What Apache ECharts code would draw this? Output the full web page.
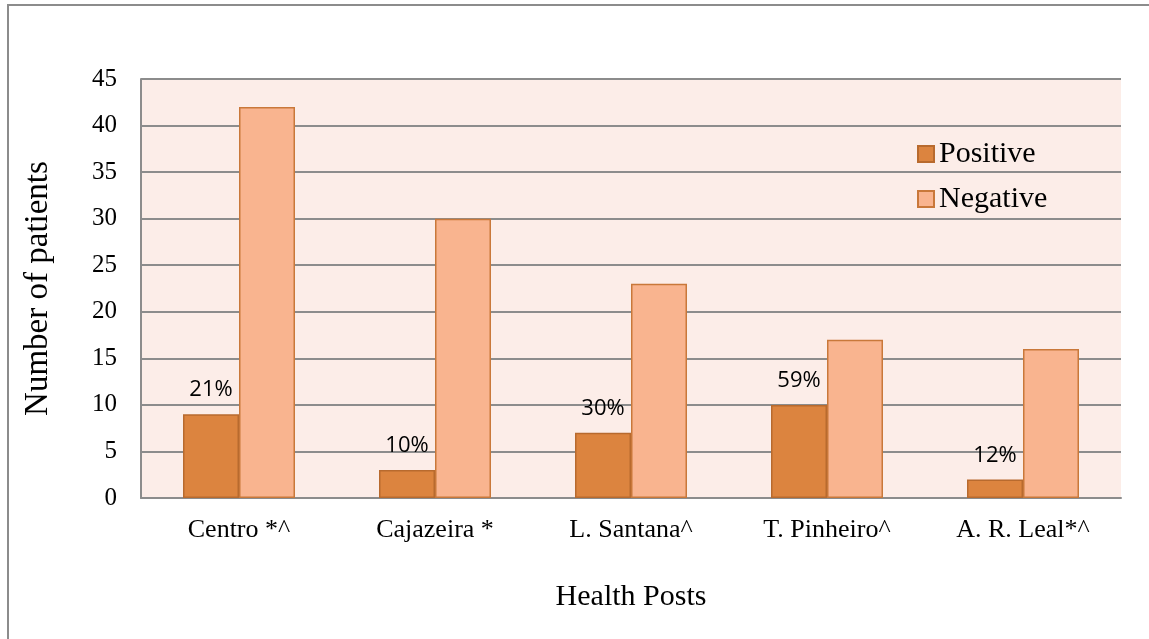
<!DOCTYPE html>
<html>
<head>
<meta charset="utf-8">
<script src="https://cdn.jsdelivr.net/npm/echarts@6/dist/echarts.min.js"></script>
<style>
  html, body { margin: 0; padding: 0; background: #fff; }
  #chart-container { width: 1149px; height: 639px; }
</style>
</head>
<body>
<div id="chart-container"></div>
<script>
const posts = ['Centro *^', 'Cajazeira *', 'L. Santana^', 'T. Pinheiro^', 'A. R. Leal*^'];
const positive = [9, 3, 7, 10, 2];
const negative = [42, 30, 23, 17, 16];
const pctLabels = ['21%', '10%', '30%', '59%', '12%'];

const serif = '"Liberation Serif", "Times New Roman", serif';

const myChart = echarts.init(document.getElementById('chart-container'));
const option = {
    animation: false,
    backgroundColor: '#fff',
    graphic: [{
        type: 'rect',
        shape: { x: 8, y: 5, width: 1300, height: 800 },
        style: { fill: 'none', stroke: '#8c8c8c', lineWidth: 2 },
        silent: true
    }],
    grid: {
        left: 141, right: 28, top: 79, bottom: 141,
        show: true,
        backgroundColor: '#fcede8',
        borderWidth: 0
    },
    legend: {
        orient: 'vertical',
        left: 912,
        top: 134,
        icon: 'rect',
        itemWidth: 16,
        itemHeight: 16,
        itemGap: 15,
        textStyle: { fontFamily: serif, fontSize: 30, color: '#000' },
        data: ['Positive', 'Negative']
    },
    xAxis: {
        type: 'category',
        data: posts,
        name: 'Health Posts',
        nameLocation: 'middle',
        nameGap: 84,
        nameTextStyle: { fontFamily: serif, fontSize: 30, color: '#000' },
        axisLine: { lineStyle: { color: '#8c8c8c', width: 2 } },
        axisTick: { show: false },
        axisLabel: { fontFamily: serif, fontSize: 26, color: '#000', margin: 19 }
    },
    yAxis: {
        type: 'value',
        min: 0, max: 45, interval: 5,
        name: 'Number of patients',
        nameLocation: 'middle',
        nameGap: 86,
        nameTextStyle: { fontFamily: serif, fontSize: 33, color: '#000' },
        axisLine: { show: true, lineStyle: { color: '#8c8c8c', width: 2 } },
        axisTick: { show: false },
        splitLine: { lineStyle: { color: '#8c8c8c', width: 2 } },
        axisLabel: { fontFamily: serif, fontSize: 25, color: '#000', margin: 24 }
    },
    series: [
        {
            name: 'Positive',
            type: 'bar',
            barWidth: 56,
            barGap: '0%',
            data: positive,
            itemStyle: { color: '#dc843f', borderColor: '#b86a2e', borderWidth: 1.5 },
            label: {
                show: true,
                position: 'top',
                distance: 13,
                fontFamily: '"Open Sans", "Liberation Sans", sans-serif',
                fontSize: 22,
                color: '#000',
                formatter: p => pctLabels[p.dataIndex]
            }
        },
        {
            name: 'Negative',
            type: 'bar',
            barWidth: 56,
            data: negative,
            itemStyle: { color: '#f9b48f', borderColor: '#c9783a', borderWidth: 1.5 }
        }
    ]
};

option && myChart.setOption(option);
</script>
</body>
</html>
